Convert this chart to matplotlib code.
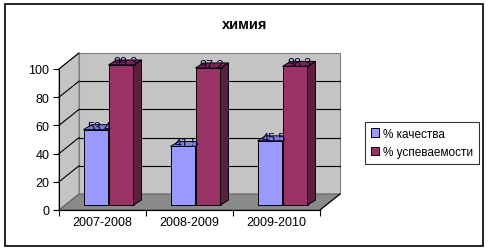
import matplotlib
matplotlib.use("Agg")
import matplotlib.pyplot as plt
from matplotlib.patches import Polygon, Rectangle

plt.rcParams['font.family'] = ['Liberation Sans', 'DejaVu Sans']

# data
title = "химия"
years = ["2007-2008", "2008-2009", "2009-2010"]
quality = [53.4, 41.5, 45.5]
success = [99.3, 97.2, 98.3]
series_names = ["% качества", "% успеваемости"]

# colours (front, side, top)
blue = ("#9999ff", "#6b6bc0", "#7c7cd8")
red = ("#993366", "#5c1f3d", "#7a2952")

# pseudo 3d geometry in data units (1 cat = 87px, 1 unit = 1.41px)
PX_X = 87.0
PX_Y = 1.41
wall_dx, wall_dy = 20 / PX_X, 16 / PX_Y
bar_ox, bar_oy = 6 / PX_X, 5 / PX_Y
side_dx, side_dy = 8 / PX_X, 5 / PX_Y
bar_w = 25 / PX_X

fig = plt.figure(figsize=(4.9, 2.53), dpi=100)
W, H = 490, 253
ax = fig.add_axes([59 / W, (H - 211) / H, 261 / W, 141 / H])
ax.set_xlim(0, 3)
ax.set_ylim(0, 100)

# outer frame
fig.patches.append(Rectangle((5 / W, (H - 247) / H), 478 / W, 242 / H,
                             transform=fig.transFigure, fill=False,
                             edgecolor="black", lw=1.2))

n = len(years)
top = 100
# back wall, left wall, floor
ax.add_patch(Polygon([(wall_dx, wall_dy), (n + wall_dx, wall_dy),
                      (n + wall_dx, top + wall_dy), (wall_dx, top + wall_dy)],
                     closed=True, facecolor="#c4c4c4", edgecolor="#808080",
                     lw=0.8, clip_on=False, zorder=1))
ax.add_patch(Polygon([(0, 0), (wall_dx, wall_dy), (wall_dx, top + wall_dy), (0, top)],
                     closed=True, facecolor="#c4c4c4", edgecolor="#808080",
                     lw=0.8, clip_on=False, zorder=1))
ax.add_patch(Polygon([(0, 0), (n, 0), (n + wall_dx, wall_dy), (wall_dx, wall_dy)],
                     closed=True, facecolor="#8a8a8a", edgecolor="#606060",
                     lw=0.8, clip_on=False, zorder=1))

# gridlines
for v in range(20, 100, 20):
    ax.plot([wall_dx, n + wall_dx], [v + wall_dy, v + wall_dy], color="black",
            lw=0.8, clip_on=False, zorder=2)
    ax.plot([0, wall_dx], [v, v + wall_dy], color="black", lw=0.8,
            clip_on=False, zorder=2)
ax.plot([0, wall_dx], [100, 100 + wall_dy], color="black", lw=0.8, clip_on=False, zorder=2)
ax.plot([n, n + wall_dx], [0, wall_dy], color="black", lw=0.8, clip_on=False, zorder=2)


def bar3d(x0, h, cols):
    fx, fy = x0 + bar_ox, bar_oy
    ax.add_patch(Polygon([(fx, fy), (fx + bar_w, fy), (fx + bar_w, fy + h), (fx, fy + h)],
                         facecolor=cols[0], edgecolor="black", lw=0.7,
                         clip_on=False, zorder=3))
    ax.add_patch(Polygon([(fx + bar_w, fy), (fx + bar_w + side_dx, fy + side_dy),
                          (fx + bar_w + side_dx, fy + h + side_dy), (fx + bar_w, fy + h)],
                         facecolor=cols[1], edgecolor="black", lw=0.7,
                         clip_on=False, zorder=3))
    ax.add_patch(Polygon([(fx, fy + h), (fx + bar_w, fy + h),
                          (fx + bar_w + side_dx, fy + h + side_dy), (fx + side_dx, fy + h + side_dy)],
                         facecolor=cols[2], edgecolor="black", lw=0.7,
                         clip_on=False, zorder=3))
    ax.text(fx + bar_w / 2 + side_dx / 2, fy + h + side_dy / 2 + 0.5, f"{h}",
            ha="center", va="center", fontsize=9, color="#000033",
            zorder=5, clip_on=False)


for i in range(n):
    c = i + 0.5
    bar3d(c - bar_w, quality[i], blue)
    bar3d(c, success[i], red)

# axes styling
for s in ["top", "right"]:
    ax.spines[s].set_visible(False)
ax.patch.set_visible(False)
ax.spines["left"].set_linewidth(0.8)
ax.spines["bottom"].set_linewidth(0.8)
ax.set_yticks(range(0, 101, 20))
ax.set_xticks(range(0, n + 1))
ax.set_xticklabels([])
ax.set_xticks([i + 0.5 for i in range(n)], minor=True)
ax.set_xticklabels(years, minor=True, fontsize=9)
ax.tick_params(axis="x", which="minor", length=0, pad=4)
ax.tick_params(axis="x", which="major", length=4, direction="out")
ax.tick_params(axis="y", length=4, labelsize=9, pad=3)

fig.text(245 / W, (H - 25) / H, title, ha="center", va="center",
         fontsize=10.5, fontweight="bold")

# legend
handles = [Rectangle((0, 0), 1, 1, facecolor=blue[0], edgecolor="black", lw=0.7),
           Rectangle((0, 0), 1, 1, facecolor=red[0], edgecolor="black", lw=0.7)]
leg = fig.legend(handles, series_names, loc="center left",
                 bbox_to_anchor=(365 / W, (H - 144) / H), fontsize=8.5,
                 frameon=True, fancybox=False, edgecolor="black",
                 handlelength=0.7, handleheight=0.7, handletextpad=0.35,
                 borderpad=0.5, labelspacing=0.55, borderaxespad=0)
leg.get_frame().set_linewidth(0.8)

fig.savefig("out.png", dpi=100)
